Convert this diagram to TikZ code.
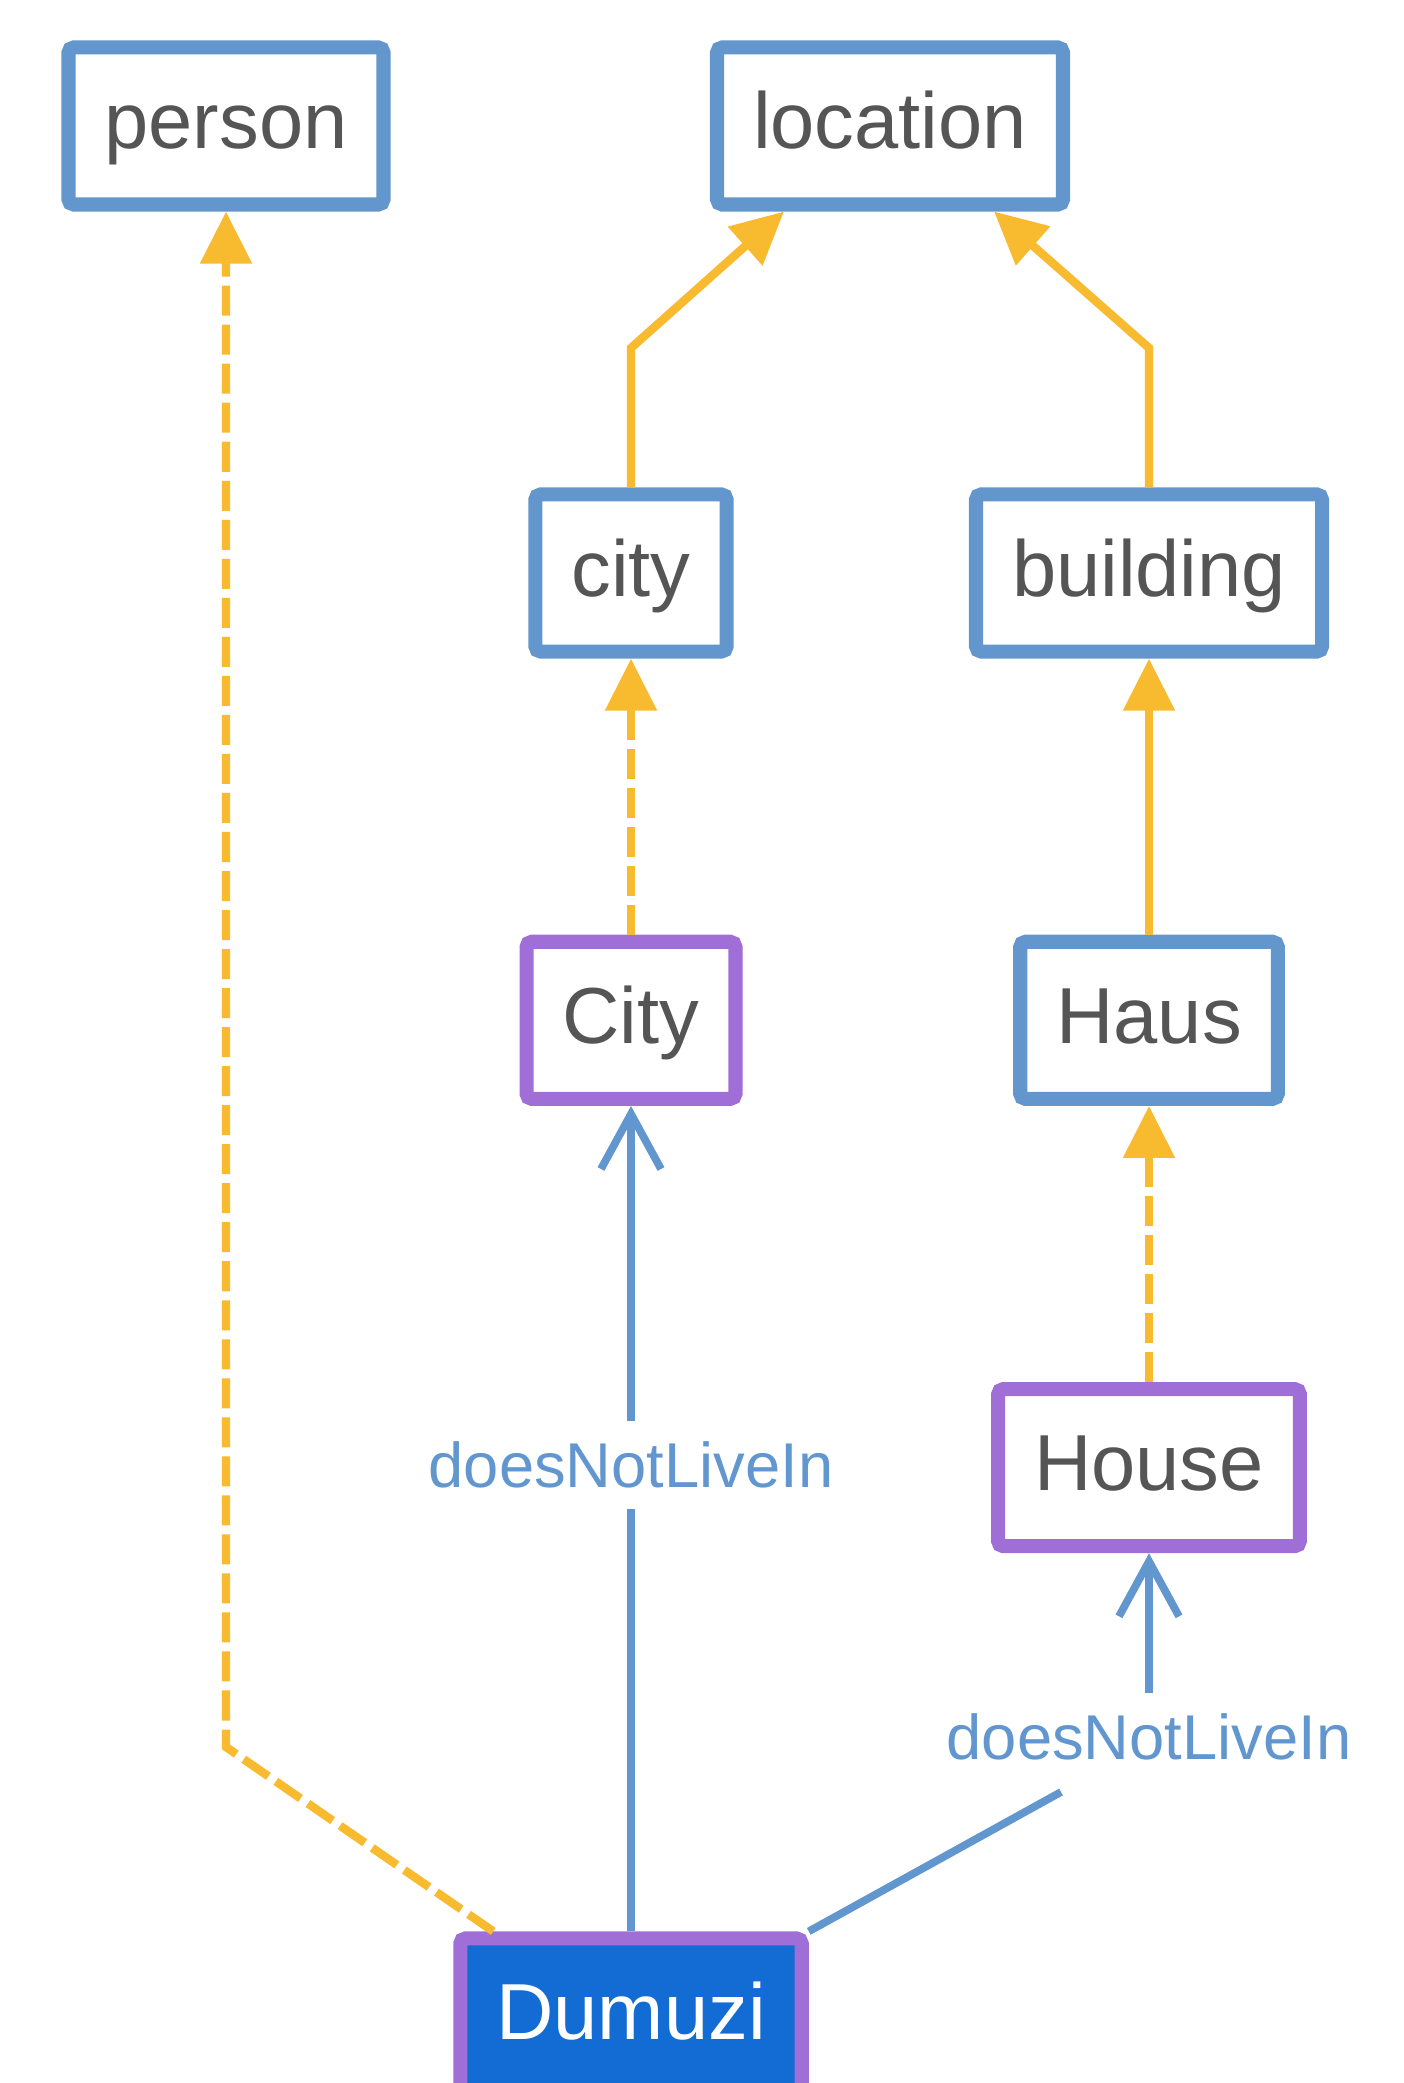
\documentclass[tikz,border=0pt]{standalone}
\usepackage{fontspec}
\setmainfont{Liberation Sans}
\usetikzlibrary{positioning}
\usetikzlibrary{arrows.meta}

\definecolor{clsblue}{RGB}{99,150,204}
\definecolor{instpurple}{RGB}{160,110,215}
\definecolor{isaorange}{RGB}{248,186,47}
\definecolor{textgray}{RGB}{85,85,85}
\definecolor{relblue}{RGB}{98,150,206}
\definecolor{selfill}{RGB}{18,108,212}

\begin{document}
\begin{tikzpicture}[x=0.01cm, y=-0.01cm,
		cls/.style={draw=clsblue, line width=4pt, rounded corners=1.5pt, fill=white, text=textgray, inner xsep=0.36cm, inner ysep=0pt, text height=0.63cm, text depth=0.17cm, minimum height=1.57cm, font=\fontsize{22.6}{26}\selectfont},
		inst/.style={cls, draw=instpurple},
		lbl/.style={text=relblue, inner xsep=0.05cm, inner ysep=0.2cm, font=\fontsize{18}{22}\selectfont},
		isa/.style={draw=isaorange, line width=2.4pt, -{Triangle[length=0.52cm, width=0.5cm]}},
		inof/.style={isa, dash pattern=on 0.3cm off 0.09cm},
		rel/.style={draw=relblue, line width=2.2pt},
		relarr/.style={rel, -{Straight Barb[length=0.55cm, width=0.6cm, line width=2.2pt]}}]
		\useasboundingbox (0,0) rectangle (1404,2083);
		
		\node[cls] (person) at (226,126) {person};
		\node[cls] (location) at (890,126) {location};
		
		\node[cls] (city) at (631,573) {city};
		\node[inst, below = 2.76cm of city] (City) {City};
		\node[inst, below = 8.25cm of City, fill=selfill, text=white] (Dumuzi) {Dumuzi};
		
		\node[cls] (building) at (1149,573) {building};
		\node[cls, below = 2.76cm of building] (Haus) {Haus};
		\node[inst, below = 2.76cm of Haus] (House) {House};
		
		\node[lbl] (lblA) at (631,1465) {doesNotLiveIn};
		\node[lbl] (lblB) at (1149,1737) {doesNotLiveIn};
		
		\coordinate (pbend) at (226,1747);
		\coordinate (cbend) at (631,348);
		\coordinate (bbend) at (1149,348);
		\coordinate (hbend) at (1061,1792);
		
		\draw[inof] ([xshift=0.4cm]Dumuzi.north west) -- (pbend) -- (person);
		\draw[isa] (city) -- (cbend) -- ([xshift=-1.06cm]location.south);
		\draw[isa] (building) -- (bbend) -- ([xshift=1.04cm]location.south);
		\draw[inof] (City) -- (city);
		\draw[inof] (House) -- (Haus);
		\draw[isa] (Haus) -- (building);
		\draw[rel] (Dumuzi) -- (lblA);
		\draw[relarr] (lblA) -- (City);
		\draw[rel] (Dumuzi.north east) -- (hbend);
		\draw[relarr] (lblB) -- (House);
	\end{tikzpicture}
\end{document}
